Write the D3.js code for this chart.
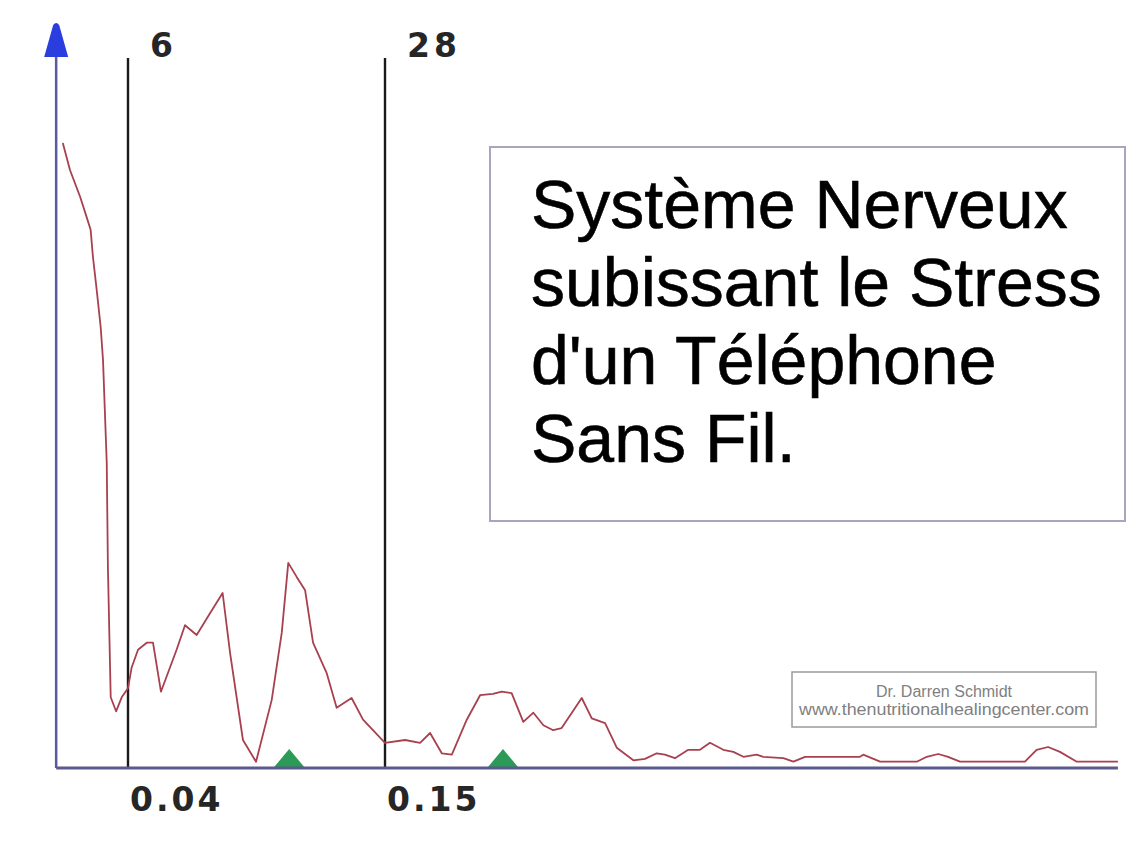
<!DOCTYPE html>
<html>
<head>
<meta charset="utf-8">
<script src="https://cdn.jsdelivr.net/npm/d3@7"></script>
<style>
  html, body { margin: 0; padding: 0; background: #ffffff; }
  svg { display: block; }
</style>
</head>
<body>
<svg id="chart" width="1133" height="854"></svg>
<script>
// ---- data ----
const freqs = [0.0121,0.0152,0.0195,0.0223,0.0240,0.0250,0.0266,0.0283,0.0293,0.0309,0.0314,0.0326,0.0349,0.0373,0.0400,0.0416,0.0443,0.0480,0.0507,0.0541,0.0608,0.0644,0.0694,0.0751,0.0805,0.0837,0.0892,0.0948,0.1015,0.1058,0.1086,0.1122,0.1158,0.1192,0.1250,0.1293,0.1357,0.1406,0.1500,0.1586,0.1650,0.1693,0.1743,0.1786,0.1850,0.1907,0.1962,0.2000,0.2042,0.2092,0.2135,0.2178,0.2220,0.2256,0.2342,0.2385,0.2442,0.2492,0.2563,0.2613,0.2663,0.2698,0.2741,0.2798,0.2848,0.2891,0.2948,0.2991,0.3034,0.3091,0.3119,0.3205,0.3248,0.3298,0.3533,0.3547,0.3619,0.3776,0.3819,0.3868,0.3910,0.3961,0.4239,0.4289,0.4338,0.4389,0.4461,0.4637];
const power = [89.3,85.4,81.6,78.7,76.9,73.0,68.3,63.0,58.3,43.6,28.7,10.1,8.1,10.1,11.4,14.4,16.9,17.9,17.9,10.9,16.9,20.4,19.0,22.1,25.0,16.4,4.0,0.9,9.7,19.3,29.3,27.3,25.4,17.9,13.6,8.6,10.0,6.9,3.6,4.0,3.6,5.0,2.1,1.9,6.9,10.4,10.6,10.9,10.7,6.6,7.9,6.1,5.4,5.7,10.0,7.1,6.4,2.9,1.1,1.3,2.1,1.9,1.4,2.6,2.6,3.6,2.6,2.3,1.6,1.9,1.6,1.4,0.9,1.6,1.6,1.9,0.9,0.9,1.6,2.0,1.6,0.9,0.9,2.6,3.0,2.3,0.9,0.9];
const bandEdges = [0.04, 0.15];
const bandTopLabels = ["6", "28"];
const bandBottomLabels = ["0.04", "0.15"];
const peakMarkers = [0.109, 0.2005];
const freqExtent = [0.00925, 0.4637];
const powerDomain = [0, 100];
const titleLines = ["Système Nerveux", "subissant le Stress", "d'un Téléphone", "Sans Fil."];
const creditLines = ["Dr. Darren Schmidt", "www.thenutritionalhealingcenter.com"];

// ---- scales ----
const x = d3.scaleLinear().domain([0.04, 0.15]).range([128, 385]);
const y = d3.scaleLinear().domain(powerDomain).range([768, 68]);
const svg = d3.select("#chart");

svg.append("rect").attr("width", 1133).attr("height", 854).attr("fill", "#ffffff");

// title box
const tb = svg.append("g");
tb.append("rect").attr("x", 490).attr("y", 147).attr("width", 635).attr("height", 374)
  .attr("fill", "#ffffff").attr("stroke", "#aaa4bd").attr("stroke-width", 2);
tb.selectAll("text").data(titleLines).join("text")
  .attr("x", 531).attr("y", (d, i) => 228 + i * 78)
  .attr("font-family", "Liberation Sans, Arial, sans-serif")
  .attr("font-size", 68).attr("fill", "#000")
  .attr("stroke", "#000").attr("stroke-width", 0.6)
  .text(d => d);

// credit box
const cb = svg.append("g");
cb.append("rect").attr("x", 792).attr("y", 672).attr("width", 304).attr("height", 55)
  .attr("fill", "#ffffff").attr("stroke", "#9a9a9a").attr("stroke-width", 1.5);
cb.selectAll("text").data(creditLines).join("text")
  .attr("x", 944).attr("y", (d, i) => 697 + i * 18)
  .attr("text-anchor", "middle")
  .attr("font-family", "Liberation Sans, Arial, sans-serif")
  .attr("font-size", 16).attr("fill", "#808080")
  .attr("textLength", (d, i) => i === 1 ? 290 : null)
  .attr("lengthAdjust", "spacingAndGlyphs")
  .text(d => d);

// band edge lines
svg.selectAll("line.band").data(bandEdges).join("line")
  .attr("class", "band")
  .attr("x1", d => x(d)).attr("x2", d => x(d))
  .attr("y1", 58).attr("y2", y(0))
  .attr("stroke", "#1a1a1a").attr("stroke-width", 2.4);

// labels
svg.selectAll("text.top").data(bandEdges).join("text")
  .attr("class", "top")
  .attr("x", d => x(d) + 22).attr("y", 57)
  .attr("font-family", "DejaVu Sans, Verdana, sans-serif").attr("font-weight", "bold")
  .attr("font-size", 33).attr("letter-spacing", 4).attr("fill", "#262626")
  .text((d, i) => bandTopLabels[i]);
svg.selectAll("text.bottom").data(bandEdges).join("text")
  .attr("class", "bottom")
  .attr("x", d => x(d) + 2).attr("y", 811)
  .attr("font-family", "DejaVu Sans, Verdana, sans-serif").attr("font-weight", "bold")
  .attr("font-size", 33).attr("letter-spacing", 3).attr("fill", "#262626")
  .text((d, i) => bandBottomLabels[i]);

// curve
const line = d3.line().x((d, i) => x(freqs[i])).y(d => y(d));
svg.append("path").datum(power)
  .attr("d", line)
  .attr("fill", "none").attr("stroke", "#a8404f").attr("stroke-width", 1.8)
  .attr("stroke-linejoin", "round");

// peak markers
svg.selectAll("path.peak").data(peakMarkers).join("path")
  .attr("class", "peak")
  .attr("d", d => { const cx = x(d), b = y(0) - 1; return `M${cx - 15},${b}L${cx},${b - 18}L${cx + 15},${b}Z`; })
  .attr("fill", "#2b9a57");

// axes
svg.append("line")
  .attr("x1", x(freqExtent[0])).attr("x2", x(freqExtent[0]))
  .attr("y1", 55).attr("y2", y(0))
  .attr("stroke", "#5a5aa0").attr("stroke-width", 2.5);
svg.append("line")
  .attr("x1", x(freqExtent[0])).attr("x2", x(freqExtent[1]))
  .attr("y1", y(0)).attr("y2", y(0))
  .attr("stroke", "#5a5a8e").attr("stroke-width", 3);
const ax = x(freqExtent[0]);
svg.append("path")
  .attr("d", `M${ax - 12},57L${ax - 3},25Q${ax},21 ${ax + 3},25L${ax + 12},57Z`)
  .attr("fill", "#2a3ee0");
</script>
</body>
</html>
